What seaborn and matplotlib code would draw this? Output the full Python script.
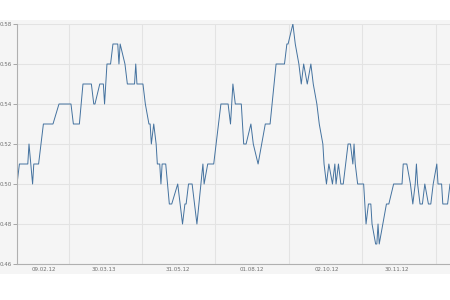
import matplotlib
matplotlib.use("Agg")
import matplotlib.pyplot as plt
from matplotlib.patches import Rectangle
import pandas as pd
import seaborn as sns

dates = [
    "2012-01-18", "2012-01-20", "2012-01-27", "2012-01-28", "2012-01-31", "2012-02-01",
    "2012-02-05", "2012-02-07", "2012-02-09", "2012-02-17", "2012-02-22", "2012-03-03",
    "2012-03-05", "2012-03-10", "2012-03-13", "2012-03-20", "2012-03-22", "2012-03-23",
    "2012-03-27", "2012-03-30", "2012-03-31", "2012-04-02", "2012-04-05", "2012-04-07",
    "2012-04-11", "2012-04-12", "2012-04-13", "2012-04-17", "2012-04-19", "2012-04-25",
    "2012-04-26", "2012-04-27", "2012-05-02", "2012-05-04", "2012-05-07", "2012-05-08",
    "2012-05-09", "2012-05-11", "2012-05-13", "2012-05-14", "2012-05-16", "2012-05-17",
    "2012-05-18", "2012-05-21", "2012-05-24", "2012-05-26", "2012-05-31", "2012-06-04",
    "2012-06-06", "2012-06-07", "2012-06-09", "2012-06-12", "2012-06-16", "2012-06-21",
    "2012-06-22", "2012-06-25", "2012-06-30", "2012-07-06", "2012-07-12", "2012-07-14",
    "2012-07-16", "2012-07-18", "2012-07-23", "2012-07-25", "2012-07-27", "2012-07-31",
    "2012-08-02", "2012-08-06", "2012-08-09", "2012-08-12", "2012-08-16", "2012-08-21",
    "2012-08-28", "2012-08-30", "2012-08-31", "2012-09-04", "2012-09-06", "2012-09-09",
    "2012-09-11", "2012-09-13", "2012-09-16", "2012-09-19", "2012-09-21", "2012-09-24",
    "2012-09-26", "2012-09-29", "2012-09-30", "2012-10-02", "2012-10-04", "2012-10-07",
    "2012-10-09", "2012-10-10", "2012-10-12", "2012-10-14", "2012-10-16", "2012-10-18",
    "2012-10-20", "2012-10-22", "2012-10-24", "2012-10-25", "2012-10-26", "2012-10-28",
    "2012-11-02", "2012-11-03", "2012-11-04", "2012-11-06", "2012-11-08", "2012-11-09",
    "2012-11-12", "2012-11-13", "2012-11-14", "2012-11-15", "2012-11-18", "2012-11-21",
    "2012-11-23", "2012-11-27", "2012-12-04", "2012-12-05", "2012-12-08", "2012-12-11",
    "2012-12-13", "2012-12-15", "2012-12-16", "2012-12-17", "2012-12-19", "2012-12-21",
    "2012-12-23", "2012-12-26", "2012-12-28", "2012-12-30", "2013-01-02", "2013-01-03",
    "2013-01-06", "2013-01-07", "2013-01-11", "2013-01-13",
]
values = [
    0.50, 0.51, 0.51, 0.52, 0.50, 0.51,
    0.51, 0.52, 0.53, 0.53, 0.54, 0.54,
    0.53, 0.53, 0.55, 0.55, 0.54, 0.54,
    0.55, 0.55, 0.54, 0.56, 0.56, 0.57,
    0.57, 0.56, 0.57, 0.56, 0.55, 0.55,
    0.56, 0.55, 0.55, 0.54, 0.53, 0.53,
    0.52, 0.53, 0.52, 0.51, 0.51, 0.50,
    0.51, 0.51, 0.49, 0.49, 0.50, 0.48,
    0.49, 0.49, 0.50, 0.50, 0.48, 0.51,
    0.50, 0.51, 0.51, 0.54, 0.54, 0.53,
    0.55, 0.54, 0.54, 0.52, 0.52, 0.53,
    0.52, 0.51, 0.52, 0.53, 0.53, 0.56,
    0.56, 0.57, 0.57, 0.58, 0.57, 0.56,
    0.55, 0.56, 0.55, 0.56, 0.55, 0.54,
    0.53, 0.52, 0.51, 0.50, 0.51, 0.50,
    0.51, 0.50, 0.51, 0.50, 0.50, 0.51,
    0.52, 0.52, 0.51, 0.52, 0.51, 0.50,
    0.50, 0.49, 0.48, 0.49, 0.49, 0.48,
    0.47, 0.47, 0.48, 0.47, 0.48, 0.49,
    0.49, 0.50, 0.50, 0.51, 0.51, 0.50,
    0.49, 0.50, 0.51, 0.50, 0.49, 0.49,
    0.50, 0.49, 0.49, 0.50, 0.51, 0.50,
    0.50, 0.49, 0.49, 0.50,
]

x_tick_dates = ["2012-02-09", "2012-03-30", "2012-05-31", "2012-08-01", "2012-10-02", "2012-11-30"]
x_tick_labels = ["09.02.12", "30.03.13", "31.05.12", "01.08.12", "02.10.12", "30.11.12"]
x_grid_dates = ["2012-03-01", "2012-05-01", "2012-07-01", "2012-09-01", "2012-11-01", "2013-01-01"]
y_ticks = [0.46, 0.48, 0.50, 0.52, 0.54, 0.56, 0.58]

df = pd.DataFrame({"date": pd.to_datetime(dates), "value": values})

sns.set_theme(style="white")
plt.rcParams["font.family"] = ["DejaVu Sans"]

fig = plt.figure(figsize=(4.5, 3), dpi=100)
fig.patch.set_facecolor("white")
fig.patches.append(Rectangle((0, 26 / 300), 1, 254 / 300, transform=fig.transFigure,
                             facecolor="#f5f5f5", edgecolor="none", zorder=-10))
ax = fig.add_axes([17 / 450, 36 / 300, 433 / 450, 240 / 300])
ax.set_facecolor("#f5f5f5")
ax.set_zorder(1)

sns.lineplot(data=df, x="date", y="value", ax=ax, color="#44729f", linewidth=0.7,
             estimator=None, sort=False)

ax.set_xlim(pd.Timestamp(dates[0]), pd.Timestamp(dates[-1]))
ax.set_ylim(0.46, 0.58)
ax.set_yticks(y_ticks)
ax.set_yticklabels([f"{v:.2f}" for v in y_ticks])
ax.set_xticks(pd.to_datetime(x_tick_dates))
ax.set_xticklabels(x_tick_labels)
ax.set_xticks(pd.to_datetime(x_grid_dates), minor=True)

ax.grid(False)
ax.yaxis.grid(True, color="#e3e3e3", linewidth=0.8)
ax.xaxis.grid(True, which="minor", color="#e3e3e3", linewidth=0.8)
ax.set_xlabel("")
ax.set_ylabel("")

for s in ["top", "right"]:
    ax.spines[s].set_visible(False)
for s in ["left", "bottom"]:
    ax.spines[s].set_color("#b0b0b0")
    ax.spines[s].set_linewidth(0.8)

ax.tick_params(axis="y", length=3, width=0.6, color="#999999", labelsize=4,
               labelcolor="#707070", pad=1, left=True)
ax.tick_params(axis="x", which="major", length=0, labelsize=4, labelcolor="#707070", pad=2)
ax.tick_params(axis="x", which="minor", length=0)

fig.savefig("out.png", dpi=100, facecolor="white")
